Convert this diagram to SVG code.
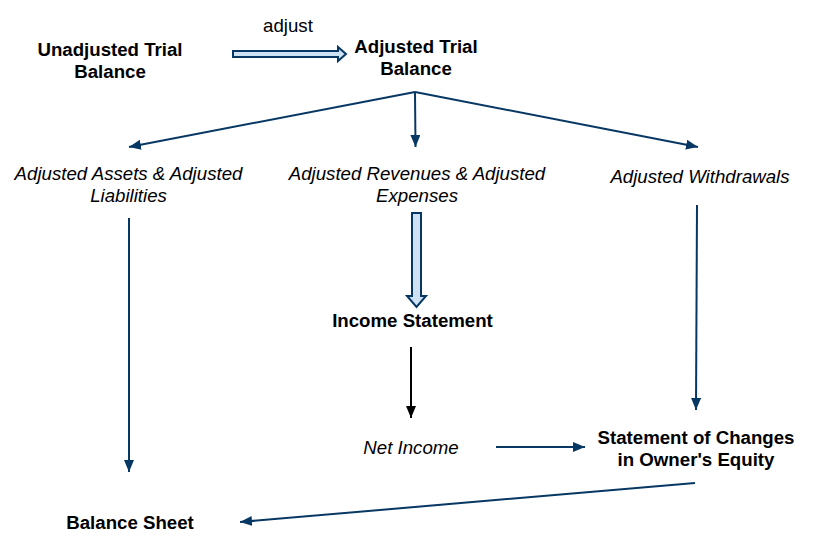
<svg xmlns="http://www.w3.org/2000/svg" width="825" height="551" viewBox="0 0 825 551">
<style>
text{font-family:"Liberation Sans",Arial,sans-serif;font-size:18.67px;fill:#000;text-anchor:middle}
.b{font-weight:bold}
.i{font-style:italic}
.c{stroke:#073763;stroke-width:2;fill:none}
.k{stroke:#000;stroke-width:2;fill:none}
.blk{fill:#cfe2f3;stroke:#073763;stroke-width:2;stroke-linejoin:miter}
</style>
<defs>
<marker id="ah" markerUnits="userSpaceOnUse" markerWidth="13" markerHeight="11" refX="12" refY="5" orient="auto"><path d="M0,0 L12,5 L0,10 z" fill="#073763"/></marker>
<marker id="ahk" markerUnits="userSpaceOnUse" markerWidth="13" markerHeight="11" refX="12" refY="5" orient="auto"><path d="M0,0 L12,5 L0,10 z" fill="#000"/></marker>
</defs>
<rect width="825" height="551" fill="#fff"/>
<g id="connectors">
<polygon class="blk" points="233,51 338,51 338,47 346,54 338,61 338,57 233,57"/>
<text x="288" y="32">adjust</text>
<line class="c" x1="415" y1="92" x2="129" y2="147" marker-end="url(#ah)"/>
<line class="c" x1="415" y1="92" x2="698" y2="147" marker-end="url(#ah)"/>
<line class="c" x1="415" y1="92" x2="415.5" y2="147" marker-end="url(#ah)"/>
<polygon class="blk" points="412,213 421,213 421,296 426,296 416.5,307 407,296 412,296"/>
<line class="c" x1="129" y1="218" x2="129" y2="472" marker-end="url(#ah)"/>
<line class="c" x1="697" y1="205" x2="696" y2="410" marker-end="url(#ah)"/>
<line class="k" x1="411" y1="347" x2="411" y2="418" marker-end="url(#ahk)"/>
<line class="c" x1="496" y1="447" x2="585" y2="447" marker-end="url(#ah)"/>
<line class="c" x1="695" y1="483" x2="240" y2="522" marker-end="url(#ah)"/>
</g>
<g id="unadjusted-trial-balance"><text class="b" x="110" y="56">Unadjusted Trial</text><text class="b" x="110" y="78">Balance</text></g>
<g id="adjusted-trial-balance"><text class="b" x="416" y="53">Adjusted Trial</text><text class="b" x="416" y="75">Balance</text></g>
<g id="assets-liabilities"><text class="i" x="128.5" y="180">Adjusted Assets &amp; Adjusted</text><text class="i" x="128.5" y="202">Liabilities</text></g>
<g id="revenues-expenses"><text class="i" x="417" y="180">Adjusted Revenues &amp; Adjusted</text><text class="i" x="417" y="202">Expenses</text></g>
<g id="withdrawals"><text class="i" x="700" y="183">Adjusted Withdrawals</text></g>
<g id="income-statement"><text class="b" x="412.5" y="327">Income Statement</text></g>
<g id="net-income"><text class="i" x="411" y="454">Net Income</text></g>
<g id="owners-equity"><text class="b" x="696" y="444">Statement of Changes</text><text class="b" x="696" y="466">in Owner's Equity</text></g>
<g id="balance-sheet"><text class="b" x="130" y="529">Balance Sheet</text></g>
</svg>
